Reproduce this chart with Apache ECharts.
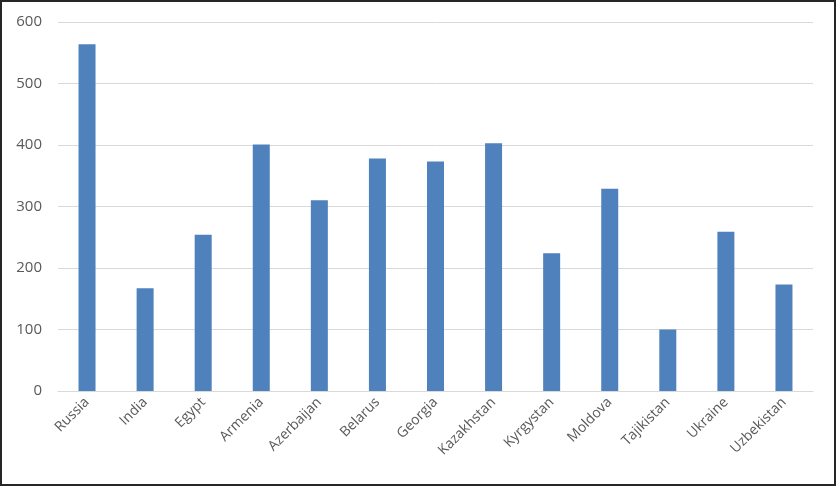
<!DOCTYPE html>
<html>
<head>
<meta charset="utf-8">
<script src="https://cdn.jsdelivr.net/npm/echarts@6/dist/echarts.min.js"></script>
<style>
  html, body { margin: 0; padding: 0; background: #fff; }
  #main { width: 836px; height: 486px; box-sizing: border-box; border: 2px solid #262626; }
</style>
</head>
<body>
<div id="main"></div>
<script>
// data
const countries = ['Russia', 'India', 'Egypt', 'Armenia', 'Azerbaijan', 'Belarus', 'Georgia',
  'Kazakhstan', 'Kyrgystan', 'Moldova', 'Tajikistan', 'Ukraine', 'Uzbekistan'];
const values = [564, 167, 254, 401, 310, 378, 373, 403, 224, 329, 100, 259, 173];
const yTicks = [0, 100, 200, 300, 400, 500, 600];

const myChart = echarts.init(document.getElementById('main'));

myChart.setOption({
  animation: false,
  grid: { left: 56, right: 21, top: 20, bottom: 93 },
  xAxis: {
    type: 'category',
    data: countries,
    axisTick: { show: false },
    axisLine: { lineStyle: { color: '#d9d9d9' } },
    axisLabel: {
      rotate: 45,
      interval: 0,
      margin: 9,
      color: '#595959',
      fontSize: 14,
      fontFamily: 'Open Sans'
    }
  },
  yAxis: {
    type: 'value',
    min: yTicks[0],
    max: yTicks[yTicks.length - 1],
    interval: 100,
    axisLine: { show: false },
    axisTick: { show: false },
    splitLine: { lineStyle: { color: '#d9d9d9' } },
    axisLabel: {
      margin: 16,
      color: '#595959',
      fontSize: 15,
      fontFamily: 'Open Sans'
    }
  },
  series: [
    {
      type: 'bar',
      data: values,
      barWidth: 17,
      itemStyle: { color: '#4f81bd' }
    }
  ]
});
</script>
</body>
</html>
